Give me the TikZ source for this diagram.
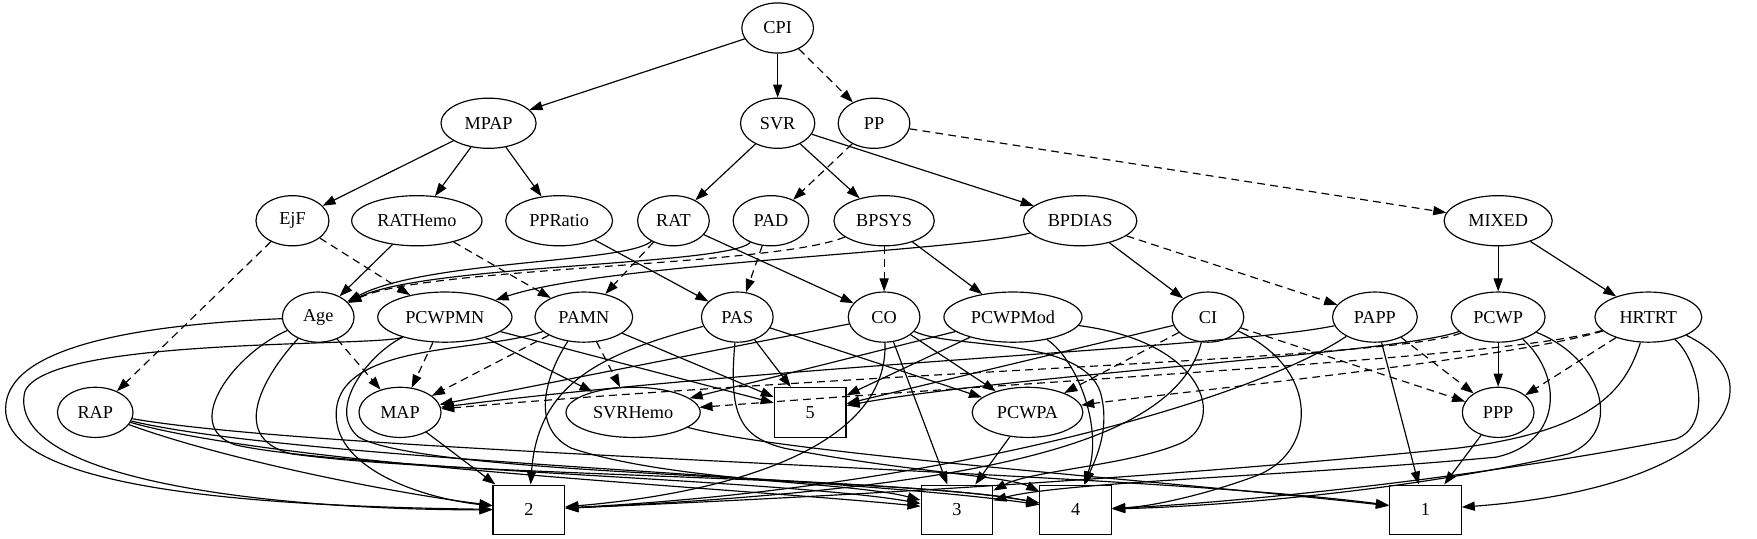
\documentclass[tikz,border=0pt]{standalone}
\usepackage{fontspec}
\setmainfont{Liberation Serif}
\usetikzlibrary{shapes.geometric,arrows.meta}

\begin{document}
\begin{tikzpicture}[x=0.86pt,y=-0.86pt,font=\fontsize{14}{16}\selectfont,
        line width=0.9pt,>={Triangle[length=10pt,width=7pt]}]

    \useasboundingbox (0,0) rectangle (1568,481);

        % variables
        \begin{scope}[every node/.style={ellipse,draw,minimum height=38.5pt,minimum width=55pt,inner sep=1pt}]
            \node (CPI) at (694,25) {CPI};

            \node[minimum width=73pt] (MPAP) at (436,110) {MPAP};
            \node[minimum width=57pt] (SVR) at (694,110) {SVR};
            \node (PP) at (780,110) {PP};

            \node[minimum width=56pt] (EjF) at (261,197) {EjF};
            \node[minimum width=100pt] (RATHemo) at (372,197) {RATHemo};
            \node[minimum width=82pt] (PPRatio) at (499,197) {PPRatio};
            \node (RAT) at (601,197) {RAT};
            \node[minimum width=58pt] (PAD) at (688,197) {PAD};
            \node[minimum width=77pt] (BPSYS) at (789,197) {BPSYS};
            \node[minimum width=87pt] (BPDIAS) at (964,197) {BPDIAS};
            \node[minimum width=83pt] (MIXED) at (1337,197) {MIXED};

            \node (Age) at (284,283) {Age};
            \node[minimum width=103pt] (PCWPMN) at (397,283) {PCWPMN};
            \node[minimum width=75pt] (PAMN) at (521,283) {PAMN};
            \node (PAS) at (658,283) {PAS};
            \node (CO) at (789,283) {CO};
            \node[minimum width=106pt] (PCWPMod) at (904,283) {PCWPMod};
            \node (CI) at (1078,283) {CI};
            \node[minimum width=65pt] (PAPP) at (1227,283) {PAPP};
            \node[minimum width=72pt] (PCWP) at (1337,283) {PCWP};
            \node[minimum width=82pt] (HRTRT) at (1471,283) {HRTRT};

            \node[minimum width=58pt] (RAP) at (85,368) {RAP};
            \node[minimum width=63pt] (MAP) at (357,368) {MAP};
            \node[minimum width=103pt] (SVRHemo) at (565,368) {SVRHemo};
            \node[minimum width=85pt] (PCWPA) at (917,368) {PCWPA};
            \node (PPP) at (1337,368) {PPP};
        \end{scope}

        % outcome boxes
        \begin{scope}[every node/.style={rectangle,draw,minimum width=55pt,minimum height=38pt}]
            \node (s5) at (723,368) {5};
            \node (s2) at (472,455) {2};
            \node (s3) at (854,455) {3};
            \node (s4) at (960,455) {4};
            \node (s1) at (1272,455) {1};
        \end{scope}

        % straight links
        \begin{scope}[every edge/.style={draw,->}]
            \path (CPI) edge (MPAP);
            \path (CPI) edge (SVR);
            \path (MPAP) edge (EjF);
            \path (MPAP) edge (RATHemo);
            \path (MPAP) edge (PPRatio);
            \path (SVR) edge (RAT);
            \path (SVR) edge (BPSYS);
            \path (SVR) edge (BPDIAS);
            \path (MIXED) edge (PCWP);
            \path (MIXED) edge (HRTRT);
            \path (BPDIAS) edge (CI);
            \path (BPSYS) edge (PCWPMod);
            \path (RATHemo) edge (Age);
            \path (PPRatio) edge (PAS);
            \path (RAT) edge (CO);

            \path (PCWPMN) edge (SVRHemo);
            \path (PCWPMN) edge (s5);
            \path (PAMN) edge (s5);
            \path (PAS) edge (s5);
            \path (PAS) edge (PCWPA);
            \path (CO) edge (MAP);
            \path (CO) edge (s3);
            \path (CO) edge (PCWPA);
            \path (PCWPMod) edge (SVRHemo);
            \path (PCWPMod) edge (s5);
            \path (CI) edge (s5);
            \path (PAPP) edge (s1);
            \path (PCWP) edge (PPP);
            \path (MAP) edge (s2);
            \path (PCWPA) edge (s3);
            \path (PPP) edge (s1);
        \end{scope}

        % dashed links
        \begin{scope}[every edge/.style={draw,->,dash pattern=on 6pt off 4pt}]
            \path (CPI) edge (PP);
            \path (PP) edge (PAD);
            \path (PP) edge (MIXED);
            \path (BPDIAS) edge (PAPP);
            \path (BPSYS) edge (CO);
            \path (EjF) edge (RAP);
            \path (EjF) edge (PCWPMN);
            \path (RATHemo) edge (PAMN);
            \path (RAT) edge (PAMN);
            \path (PAD) edge (PAS);
            \path (Age) edge (MAP);
            \path (PCWPMN) edge (MAP);
            \path (PAMN) edge (MAP);
            \path (PAMN) edge (SVRHemo);
            \path (CI) edge (PCWPA);
            \path (CI) edge (PPP);
            \path (PAPP) edge (PPP);
            \path (HRTRT) edge (PPP);
        \end{scope}

        % curved links
        \draw[->] (RAT) .. controls (560,235) and (380,232) .. (Age);
        \draw[->] (PAD) .. controls (650,237) and (380,236) .. (Age);
        \draw[->,dash pattern=on 6pt off 4pt] (BPSYS) .. controls (690,238) and (380,238) .. (Age);
        \draw[->] (BPDIAS) .. controls (850,225) and (540,235) .. (PCWPMN);

        \draw[->] (Age) .. controls (120,290) and (5,310) .. (5,365) .. controls (5,440) and (250,452) .. (s2);
        \draw[->] (Age) .. controls (210,315) and (160,380) .. (210,397) .. controls (300,418) and (700,428) .. (s3);
        \draw[->] (Age) .. controls (240,330) and (200,390) .. (260,405) .. controls (400,425) and (800,425) .. (s4);

        \draw[->] (PCWPMN) .. controls (340,310) and (40,300) .. (22,350) .. controls (5,430) and (250,455) .. (s2);
        \draw[->] (PCWPMN) .. controls (330,315) and (290,365) .. (320,390) .. controls (380,425) and (800,425) .. (s4);

        \draw[->] (PAMN) .. controls (430,315) and (300,305) .. (300,370) .. controls (300,420) and (380,445) .. (s2);
        \draw[->] (PAMN) .. controls (490,330) and (470,380) .. (510,400) .. controls (600,430) and (760,430) .. (s3);

        \draw[->] (PAS) .. controls (540,315) and (480,340) .. (s2);
        \draw[->] (PAS) .. controls (650,370) and (660,390) .. (700,400) .. controls (800,420) and (900,425) .. (s4);

        \draw[->] (CO) .. controls (793,400) and (650,440) .. (s2);
        \draw[->] (CO) .. controls (850,312) and (965,300) .. (982,350) .. controls (992,385) and (975,415) .. (s4);

        \draw[->] (PCWPMod) .. controls (1075,305) and (1095,375) .. (1055,395) .. controls (1010,415) and (920,420) .. (s3);
        \draw[->] (PCWPMod) .. controls (960,320) and (985,380) .. (s4);

        \draw[->] (CI) .. controls (1050,390) and (900,435) .. (s2);
        \draw[->] (CI) .. controls (1180,330) and (1175,405) .. (1120,425) .. controls (1080,440) and (1030,452) .. (s4);

        \draw[->] (PAPP) .. controls (1100,310) and (700,325) .. (MAP);
        \draw[->] (PAPP) .. controls (1120,355) and (850,435) .. (s2);

        \draw[->] (PCWP) .. controls (1250,315) and (900,335) .. (s5);
        \draw[->,dash pattern=on 6pt off 4pt] (PCWP) .. controls (1250,320) and (800,330) .. (MAP);
        \draw[->] (PCWP) .. controls (1395,335) and (1395,395) .. (1335,408) .. controls (1150,425) and (950,430) .. (s3);
        \draw[->] (PCWP) .. controls (1430,320) and (1450,385) .. (1400,405) .. controls (1250,440) and (1080,452) .. (s4);

        \draw[->,dash pattern=on 6pt off 4pt] (HRTRT) .. controls (1350,320) and (1050,350) .. (PCWPA);
        \draw[->,dash pattern=on 6pt off 4pt] (HRTRT) .. controls (1350,318) and (1000,335) .. (SVRHemo);
        \draw[->] (HRTRT) .. controls (1450,350) and (1420,385) .. (1300,400) .. controls (1000,430) and (700,445) .. (s2);
        \draw[->] (HRTRT) .. controls (1515,320) and (1530,380) .. (1495,392) .. controls (1300,430) and (1080,450) .. (s4);
        \draw[->] (HRTRT) .. controls (1590,340) and (1540,435) .. (s1);

        \draw[->] (RAP) .. controls (200,410) and (350,440) .. (s2);
        \draw[->] (RAP) .. controls (250,415) and (650,435) .. (s3);
        \draw[->] (RAP) .. controls (260,410) and (750,425) .. (s4);
        \draw[->] (RAP) .. controls (300,405) and (1000,420) .. (s1);
        \draw[->] (SVRHemo) .. controls (700,405) and (1050,430) .. (s1);

    \end{tikzpicture}
\end{document}
